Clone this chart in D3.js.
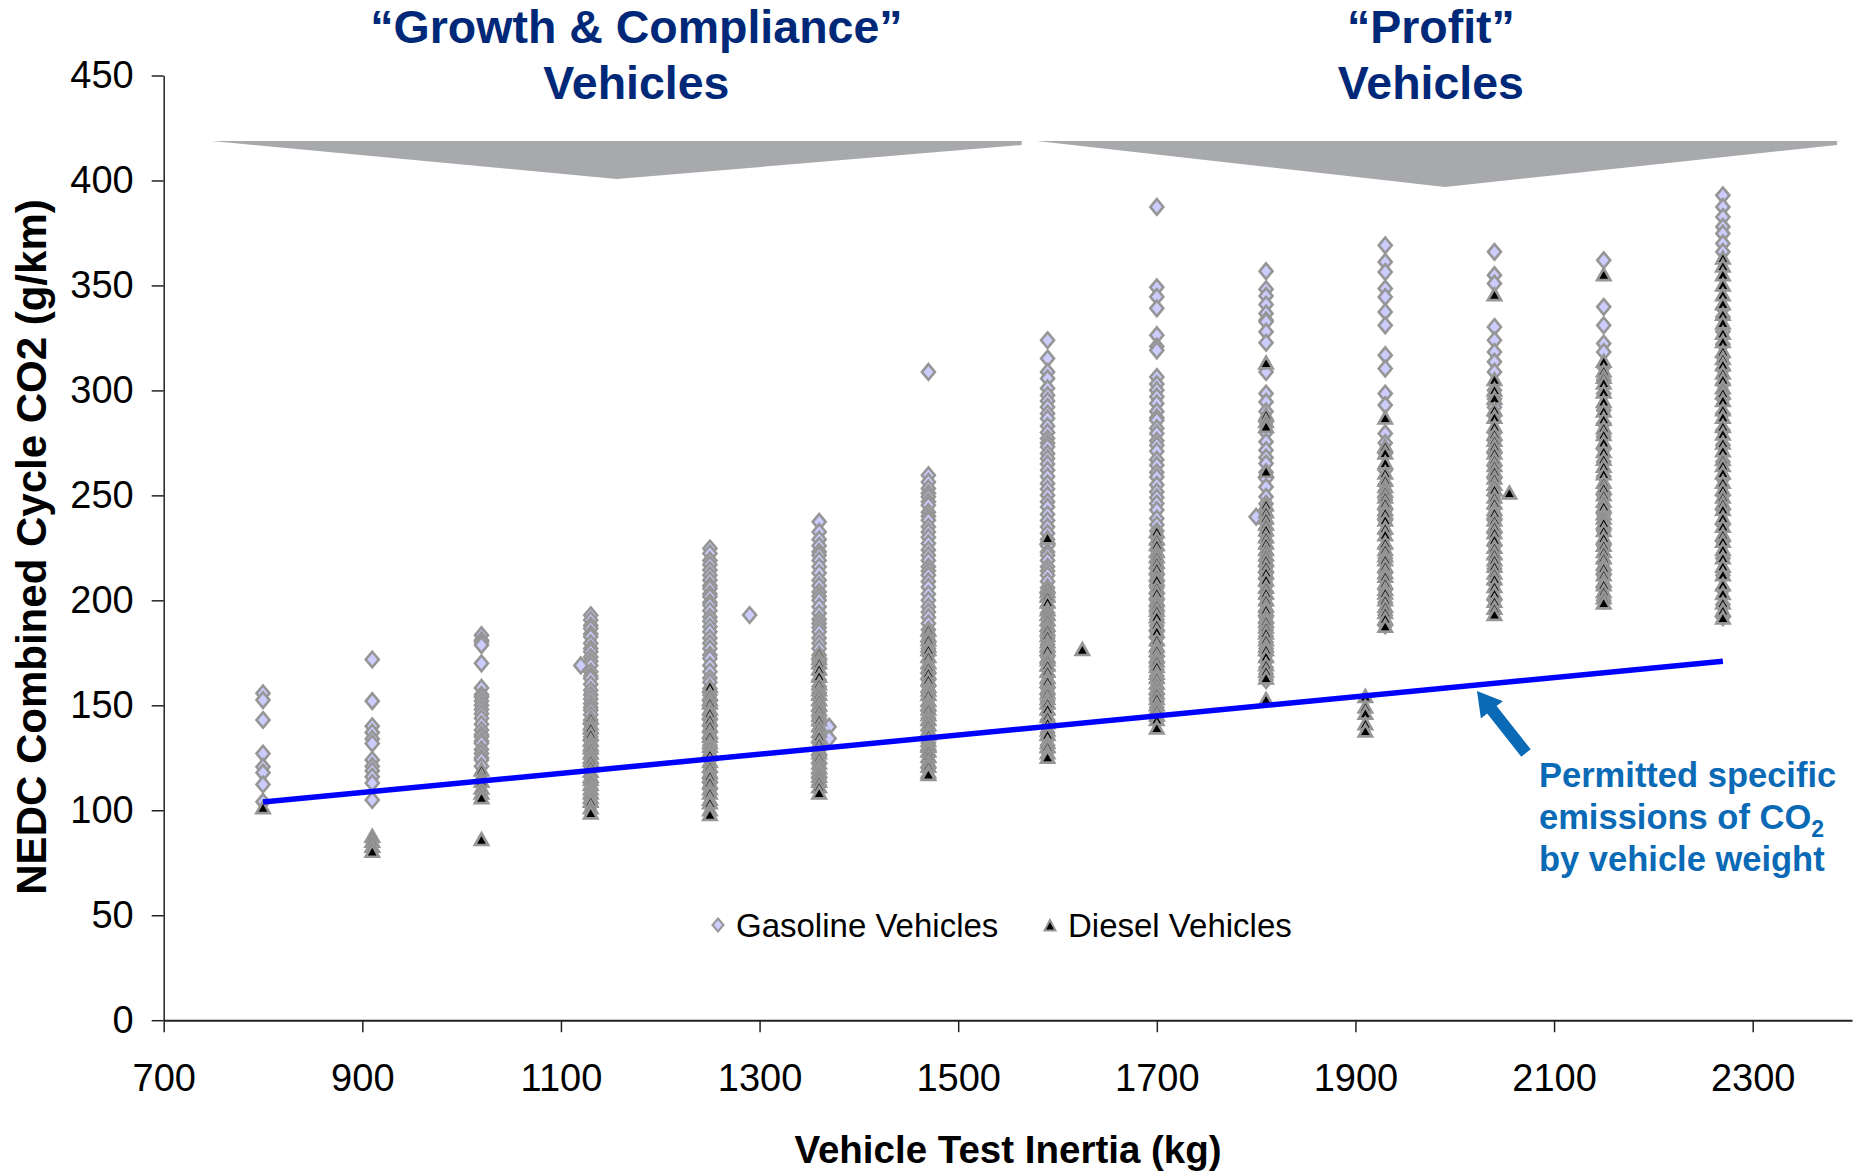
<!DOCTYPE html>
<html>
<head>
<meta charset="utf-8">
<script src="https://cdn.jsdelivr.net/npm/d3@7"></script>
<style>
  html, body { margin: 0; padding: 0; background: #fff; }
  svg { display: block; font-family: "Liberation Sans", Arial, sans-serif; }
</style>
</head>
<body>
<svg id="chart" width="1860" height="1174"></svg>
<script>
// ---------------- DATA ----------------
const xTicks = [700, 900, 1100, 1300, 1500, 1700, 1900, 2100, 2300];
const yTicks = [0, 50, 100, 150, 200, 250, 300, 350, 400, 450];

// [test inertia (kg), CO2 values (g/km)] read column by column
const gasolineColumns = [
  [800, [155.7,152.5,143,127,120.7,117.9,112.3,104]],
  [910, [171.8,152,140,137,134,131.8,124,121,118.8,116,113,104.9]],
  [1020, [183.4,181,180.2,178.7,170,158.3,155,154,152,150,148,146,143.8,141,138.2,136,135,133,131.9,129,127,125,124,121]],
  [1130, [192.9,190.6,188,186.6,184,182.6,179.5,177,175.5,173,171,169,166,164,162.8,160,157.2,155,153,150.9,149,147.7,145.5,143,141,137,135,133,131,127,125,121,116,113,110,106,102]],
  [1250, [224.7,222.3,219,217,214.4,212,209.6,207,205.6,203,201.7,199,197.7,195,192.1,190,187.4,185,182,179.5,177,174,172.3,169,166,163,161,158,155,152,149,146,143,140,137,134,131,128,124,121,118,115,113,110]],
  [1360, [237.4,232.6,229,226,223.1,221.5,219,216,213,209.6,207,204,202,200,197,193.8,191,189,187,185,182,179.5,177,174,171,168,165,162,159,156,153,150,147,144,141,138,135,132,129,126,122,118,115,112]],
  [1470, [308.8,259.6,256.4,253.3,251,249.3,247,245.3,242,240,238.2,235,232.6,230,227.1,224,221.5,219,216,214,212,209,206.4,203,200,197,194.5,192,189,186,183,180,177,174,171,168,165,162,159,156,153,150,147,144,141,138,135,132,129,126,123,120]],
  [1590, [323.9,315.2,308.8,305.7,301,297.7,295,292.1,289,286.6,283,280,277.1,275,273.1,270,267.6,265,262,259,255.7,253,250.1,247,244.5,241,238,235,232,229,226,223,221.5,219,216,214,212,209,206,203,200,197,194,191,188,185,182,179,176,173,170,167,164,161,158,155,152,149,146,143,140,137,134,131,128]],
  [1700, [387.4,349.1,344.6,339.1,326.3,320.9,319.1,306.4,303,300.1,297,293.8,290,287,285.8,282,279.5,276,273.9,271,267,264.4,261,258.8,255,251.7,249,246.1,243,239,236,233,230,227,224,221,218,215,212,209,206,203,200,197,194,191,188,185,182,179,176,173,170,167,164,161,158,155,152,149,146,143]],
  [1810, [356.8,348.2,345,340.9,336.6,333.4,332.7,327.9,322.7,308.8,298.5,294.5,290,285,280,275.5,271.5,268,265.2,261,258,254,249.3,246,243,240,237,234,231,228,225,222,219,216,213,210,207,204,201,198,195,192,189,186,183,180,177,174,171,168,165,162]],
  [1930, [369.1,361.2,356.4,348.5,344.5,337.4,331,316.8,310.4,298.5,293,279.5,275,270,262,255,248,243,238,232,225,220,213,205,199,193,188]],
  [2040, [366,354.9,350.9,330.2,323.9,318.3,313.6,308.8,300.1,296,292,288,280,276,270,264,258,250,244,238,232,226,220,215,208,200]],
  [2150, [362,339.8,331,322.3,318.3,311.2,304.9,298.5,290.6,284.2,278,272,266,259,250,241,233,226,218,212,206,200]],
  [2270, [392.9,387.4,382.6,377.9,374.7,370,366,339,335,328,322,316,310,303,296,289,281,274,266,258,250,243,236,228,220,212,205,198,192]]
];
const gasolineOutliers = [[1120,169],[1290,193],[1370,139.8],[1370,134.2],[1800,239.8]];

const dieselColumns = [
  [800, [101]],
  [910, [87.4,85,82.6,80.2]],
  [1020, [119,116,113.6,110.4,108,105.7,85.8]],
  [1130, [143.8,141,139,136,133,131,129.5,127,125,123.7,121,118.3,116,114.4,112,110,108,106,104,101,98.5]],
  [1250, [158.8,155,152.5,150.9,148,146.1,143,140,137,135,132,130.2,128,126.3,123,120.7,118,116,113,110,108,105,103.3,100,97.7]],
  [1360, [174.7,172,170,167,163.6,160,157.2,155,152.5,150,147.7,145,142.9,140,137.4,135,131.9,129,127.1,125,122.3,120,118.3,116,113.6,111,108]],
  [1470, [185.8,183,181,178,176.3,173,170,168,165.2,162,158.8,157,154.9,152,150.1,148,145.3,143,140.6,138,135.8,133,131,130.2,128,125.5,123,120.7,118,116.8]],
  [1590, [229.5,206.4,204,201.7,199,195.3,193,190.6,188,185.8,183,180,178,176.3,173,171.5,169,166,163,161.2,158,155.7,153,150.9,148,144.5,141.4,138,135.8,132,130,127.1,125]],
  [1700, [232.6,229,226.3,223,220.7,218,215.2,212,209.6,206,203.3,200,197.7,195,192,188.2,185,181,178,176,173.1,171,168.3,165,163,160.4,158,155.7,153,150,147.7,145,143,139]],
  [1810, [312.8,288.2,285,282.6,261.2,245.3,242,239,236,233.4,230,227.1,224,221.5,219,216,213,209.6,206,203.3,200,197,195.3,192,189.8,187,184.2,181,178,176.3,173,169.1,166,162.8,152.5]],
  [1930, [286.6,273.1,270,265.2,260.4,257,254,251.7,249,246.1,243,241.4,238,234.2,231,227.1,224,221,219.1,216,213,211.2,208,205,203.3,200,196.9,194,191,187.4]],
  [2040, [345.3,304.9,300,296,290.6,287,282.6,279,276,273.1,270,266.8,264,261.2,258,255,252.5,249,246.1,243,241.4,238,235,232,228.7,225,222,219.1,216,212.8,210,206.4,203,199.3,196,193]],
  [2150, [354.9,313.6,309,306,303.3,299,294.5,290,286,282,278.7,275,270.7,267,263.6,260,256,253.3,250,247,244.5,241,239,236.6,233,229.5,226,223,220,217,215.2,212,209,207.2,204,201,198.5]],
  [2270, [362.8,359,354.9,350,345.3,341,336,331.9,327,323,318.3,315,312,308,304.9,301,298.5,295,290.6,287,282.6,279,274.7,271,266.8,264,260.4,256,252.5,249,246,243,239,235,231,227.9,224,220,216,212,207.2,203,198.5,195,191.4]]
];
const dieselOutliers = [[1625,176.3],[1910,154],[1910,149],[1910,146],[1910,141],[1910,137.5],[2055,250.9]];

// permitted specific emissions line: [mass, g/km]
const limitLine = [[800, 103.9], [2270, 171.0]];

const seriesNames = ["Gasoline Vehicles", "Diesel Vehicles"];
const groupTitles = [["\u201CGrowth & Compliance\u201D", "Vehicles"], ["\u201CProfit\u201D", "Vehicles"]];
// banner extents in kg: [start, end, apex]; title centre in kg
const groupRanges = [[748.5, 1564, 1156], [1579, 2385, 1990]];
const groupTitleCentre = [1176, 1976];
const annotationLines = ["Permitted specific", "emissions of CO", "by vehicle weight"];

// ---------------- CHART ----------------
const svg = d3.select("#chart");
const FONT = '"Liberation Sans", Arial, sans-serif';

const x = d3.scaleLinear().domain([700, 2400]).range([163.7, 1852]);
const y = d3.scaleLinear().domain([0, 450]).range([1020.2, 75.5]);

// flatten series
const gasPts = [];
gasolineColumns.forEach(([m, vals]) => vals.forEach(v => gasPts.push([m, v])));
gasolineOutliers.forEach(p => gasPts.push(p));
const dslPts = [];
dieselColumns.forEach(([m, vals]) => vals.forEach(v => dslPts.push([m, v])));
dieselOutliers.forEach(p => dslPts.push(p));

// ---- Top banners (grey chevrons) ----
const bannerY = 141, bannerEdge = 4;
const bannerDepth = [38, 46];
groupRanges.forEach((r, i) => {
  const x0 = x(r[0]), x1 = x(r[1]), xa = x(r[2]);
  svg.append("path")
    .attr("d", `M${x0},${bannerY} L${x1},${bannerY} L${x1},${bannerY + bannerEdge} L${xa},${bannerY + bannerDepth[i]} Z`)
    .attr("fill", "#a7a9ac");
  const cx = x(groupTitleCentre[i]);
  const t = svg.append("text")
    .attr("text-anchor", "middle")
    .attr("font-family", FONT)
    .attr("font-weight", "bold")
    .attr("font-size", 46.5)
    .attr("fill", "#002878");
  t.append("tspan").attr("x", cx).attr("y", 43).text(groupTitles[i][0]);
  t.append("tspan").attr("x", cx).attr("y", 99).text(groupTitles[i][1]);
});

// ---- Axes ----
const yAxis = d3.axisLeft(y).tickValues(yTicks).tickSize(12).tickSizeOuter(0).tickPadding(18);
const gy = svg.append("g").attr("transform", `translate(${x(700)},0)`).call(yAxis);
gy.select(".domain").attr("stroke", "#222").attr("stroke-width", 1.5);
gy.selectAll(".tick line").attr("stroke", "#222").attr("stroke-width", 1.5);
gy.selectAll(".tick text").attr("font-family", FONT).attr("font-size", 38).attr("fill", "#000");

const xAxis = d3.axisBottom(x).tickValues(xTicks).tickFormat(d3.format("d"))
  .tickSize(12).tickSizeOuter(0).tickPadding(32);
const gx = svg.append("g").attr("transform", `translate(0,${y(0)})`).call(xAxis);
gx.select(".domain").attr("stroke", "#222").attr("stroke-width", 2);
gx.selectAll(".tick line").attr("stroke", "#222").attr("stroke-width", 1.5);
gx.selectAll(".tick text").attr("font-family", FONT).attr("font-size", 38).attr("fill", "#000");

// axis titles
svg.append("text")
  .attr("transform", `translate(46,547) rotate(-90)`)
  .attr("text-anchor", "middle")
  .attr("font-family", FONT).attr("font-weight", "bold").attr("font-size", 42)
  .attr("fill", "#000")
  .text("NEDC Combined Cycle CO2 (g/km)");

svg.append("text")
  .attr("x", 1008).attr("y", 1163)
  .attr("text-anchor", "middle")
  .attr("font-family", FONT).attr("font-weight", "bold").attr("font-size", 38.5)
  .attr("fill", "#000")
  .text("Vehicle Test Inertia (kg)");

// ---- Markers ----
const diamond = "M0,-7.8 L6.5,0 L0,7.8 L-6.5,0 Z";
const triangle = "M0,-6.8 L6.6,4.9 L-6.6,4.9 Z";

svg.append("g").selectAll("path")
  .data(gasPts).join("path")
  .attr("d", diamond)
  .attr("transform", d => `translate(${x(d[0])},${y(d[1])})`)
  .attr("fill", "#ccccff").attr("stroke", "#969696").attr("stroke-width", 2.6);

svg.append("g").selectAll("path")
  .data(dslPts).join("path")
  .attr("d", triangle)
  .attr("transform", d => `translate(${x(d[0])},${y(d[1])})`)
  .attr("fill", "#000").attr("stroke", "#969696").attr("stroke-width", 2.7);

// ---- Limit line ----
svg.append("path")
  .datum(limitLine)
  .attr("d", d3.line().x(d => x(d[0])).y(d => y(d[1])))
  .attr("fill", "none").attr("stroke", "#0000ff").attr("stroke-width", 5.5);

// ---- Legend ----
const legY = 925;
svg.append("path").attr("d", "M0,-6.5 L5.5,0 L0,6.5 L-5.5,0 Z")
  .attr("transform", `translate(718,${legY})`)
  .attr("fill", "#ccccff").attr("stroke", "#969696").attr("stroke-width", 2);
svg.append("text").attr("x", 736).attr("y", legY + 12)
  .attr("font-family", FONT).attr("font-size", 33).attr("fill", "#000")
  .text(seriesNames[0]);
svg.append("path").attr("d", "M0,-6 L5.5,4.5 L-5.5,4.5 Z")
  .attr("transform", `translate(1050,${legY + 1})`)
  .attr("fill", "#000").attr("stroke", "#969696").attr("stroke-width", 2);
svg.append("text").attr("x", 1068).attr("y", legY + 12)
  .attr("font-family", FONT).attr("font-size", 33).attr("fill", "#000")
  .text(seriesNames[1]);

// ---- Annotation arrow ----
const tip = [1477, 691], tail = [1526, 753];
const ang = Math.atan2(tail[1] - tip[1], tail[0] - tip[0]);
const len = Math.hypot(tail[0] - tip[0], tail[1] - tip[1]);
const headL = 24, headW = 14, shaftW = 6;
svg.append("path")
  .attr("d", `M0,0 L${headL},${-headW} L${headL},${-shaftW} L${len},${-shaftW} L${len},${shaftW} L${headL},${shaftW} L${headL},${headW} Z`)
  .attr("transform", `translate(${tip[0]},${tip[1]}) rotate(${ang * 180 / Math.PI})`)
  .attr("fill", "#0a6ab5");

const ann = svg.append("g").attr("font-family", FONT).attr("font-weight", "bold")
  .attr("font-size", 34.5).attr("fill", "#0a6ab5");
ann.append("text").attr("x", 1539).attr("y", 787).text(annotationLines[0]);
const l2 = ann.append("text").attr("x", 1539).attr("y", 829).text(annotationLines[1]);
l2.append("tspan").attr("dy", 8).attr("font-size", 23).text("2");
ann.append("text").attr("x", 1539).attr("y", 871).text(annotationLines[2]);
</script>
</body>
</html>
